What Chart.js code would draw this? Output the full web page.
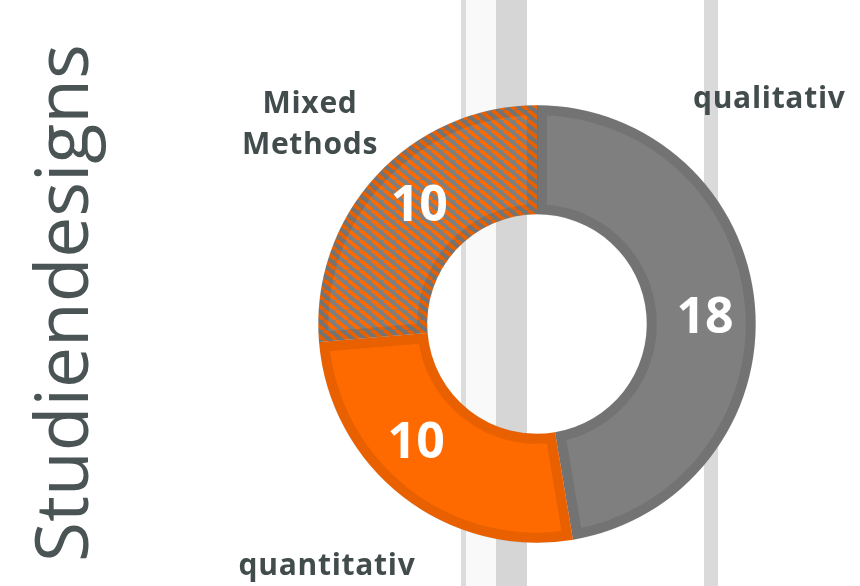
<!DOCTYPE html>
<html>
<head>
<meta charset="utf-8">
<script src="https://cdn.jsdelivr.net/npm/chart.js@4.4.1/dist/chart.umd.min.js"></script>
<style>
  html, body { margin: 0; padding: 0; background: #ffffff; }
  #wrap { position: relative; width: 860px; height: 586px; }
  canvas { display: block; }
</style>
</head>
<body>
<div id="wrap"><canvas id="c" width="860" height="586"></canvas></div>
<script>
// ---- data ----
const categories = ["qualitativ", "quantitativ", "Mixed Methods"];
const values = [18, 10, 10];
const chartTitle = "Studiendesigns";

// ---- styles ----
const GRAY = "#7f7f7f";
const ORANGE = "#ff6a00";
const TEXT = "#434c4c";
const TITLE_COLOR = "#4b5454";

function makeHatch(ctx) {
  const w = 12, h = 10;
  const c = document.createElement('canvas');
  c.width = w; c.height = h;
  const g = c.getContext('2d');
  g.fillStyle = GRAY; g.fillRect(0, 0, w, h);
  g.strokeStyle = ORANGE; g.lineWidth = 3.8;
  g.beginPath();
  for (const o of [-w, 0, w]) { g.moveTo(o, 0); g.lineTo(o + w, h); }
  g.stroke();
  return ctx.createPattern(c, 'repeat');
}

// decorative background stripes (x, width, color)
const stripes = [
  [466, 30, "#f9f9f9"],
  [461, 5, "#dcdcdc"],
  [496, 31, "#d6d6d6"],
  [704, 14, "#dadada"]
];

const bgPlugin = {
  id: 'bgStripes',
  beforeDraw(chart) {
    const ctx = chart.ctx;
    ctx.save();
    for (const [x, w, col] of stripes) {
      ctx.fillStyle = col;
      ctx.fillRect(x, 0, w, chart.height);
    }
    ctx.restore();
  }
};

const labelPlugin = {
  id: 'labels',
  afterDraw(chart) {
    const ctx = chart.ctx;
    const meta = chart.getDatasetMeta(0);
    const first = meta.data[0];
    const cx = first.x, cy = first.y;
    const R = first.outerRadius, r = first.innerRadius;
    ctx.save();
    // value labels
    const nudge = [2, 8, 3];
    ctx.fillStyle = "#ffffff";
    ctx.font = "700 50px 'Open Sans'";
    ctx.textAlign = "center";
    ctx.textBaseline = "middle";
    meta.data.forEach((arc, i) => {
      const mid = (arc.startAngle + arc.endAngle) / 2 + nudge[i] * Math.PI / 180;
      const rr = (R + r) / 2 + 4;
      const x = cx + Math.cos(mid) * rr;
      const y = cy + Math.sin(mid) * rr;
      ctx.fillText(String(values[i]), x, y + 3);
    });
    // category labels
    ctx.fillStyle = TEXT;
    ctx.font = "700 30px 'Open Sans'";
    ctx.textBaseline = "alphabetic";
    if ('letterSpacing' in ctx) ctx.letterSpacing = "0.7px";
    ctx.textAlign = "left";
    ctx.fillText(categories[0], cx + 156, cy - 216);
    ctx.textAlign = "center";
    ctx.fillText(categories[1], cx - 210, cy + 251);
    const parts = categories[2].split(" ");
    ctx.fillText(parts[0], cx - 227, cy - 211);
    ctx.fillText(parts[1], cx - 227, cy - 170);
    if ('letterSpacing' in ctx) ctx.letterSpacing = "0px";
    // title (rotated)
    ctx.fillStyle = TITLE_COLOR;
    ctx.font = "400 73px 'Open Sans'";
    ctx.translate(88, 562);
    ctx.rotate(-Math.PI / 2);
    ctx.textAlign = "left";
    ctx.fillText(chartTitle, 0, 0);
    ctx.restore();
  }
};

function build() {
  const ctx = document.getElementById('c').getContext('2d');
  const hatch = makeHatch(ctx);
  new Chart(ctx, {
    type: 'doughnut',
    data: {
      labels: categories,
      datasets: [{
        data: values,
        backgroundColor: [GRAY, ORANGE, hatch],
        borderColor: "rgba(0,0,0,0.09)",
        borderWidth: 10,
        borderAlign: 'inner',
        hoverOffset: 0
      }]
    },
    options: {
      responsive: false,
      animation: false,
      cutout: '50%',
      layout: { padding: { left: 317, top: 105, right: 103, bottom: 43 } },
      plugins: { legend: { display: false }, tooltip: { enabled: false }, title: { display: false } },
      events: []
    },
    plugins: [bgPlugin, labelPlugin]
  });
}

Promise.all([
  document.fonts.load("700 30px 'Open Sans'"),
  document.fonts.load("400 73px 'Open Sans'")
]).then(build, build);
</script>
</body>
</html>
